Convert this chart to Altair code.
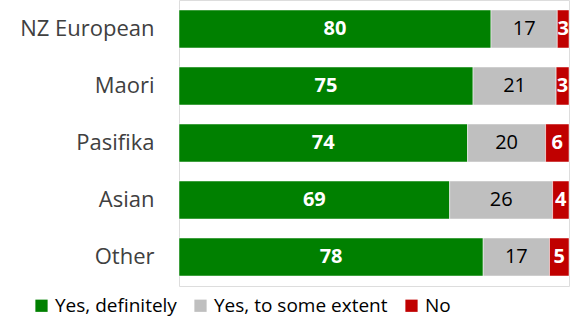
import altair as alt
import pandas as pd

categories = ["NZ European", "Maori", "Pasifika", "Asian", "Other"]
responses = ["Yes, definitely", "Yes, to some extent", "No"]
yes_def = [80.0, 75.4, 74.0, 69.4, 78.0]
yes_some = [17.0, 21.3, 20.0, 26.4, 17.0]
no = [3.0, 3.3, 6.0, 4.2, 5.0]
colors = ["#008000", "#BFBFBF", "#C00000"]

rows = []
for i, c in enumerate(categories):
    for j, (r, vals) in enumerate(zip(responses, [yes_def, yes_some, no])):
        rows.append({"category": c, "response": r, "order": j,
                     "value": vals[i], "label": str(int(round(vals[i]))),
                     "bold": j != 1})
df = pd.DataFrame(rows)

FONT = "Open Sans"

base = alt.Chart(df).transform_stack(
    stack="value", as_=["x0", "x1"], groupby=["category"],
    sort=[alt.SortField("order", order="ascending")]
).transform_calculate(mid="(datum.x0 + datum.x1) / 2")

y_enc = alt.Y("category:N", sort=categories, title=None,
              scale=alt.Scale(paddingInner=0.333, paddingOuter=0.175),
              axis=alt.Axis(domain=False, ticks=False, labelFontSize=22,
                            labelColor="#404040", labelFont=FONT,
                            labelPadding=25, labelLimit=0))

bars = base.mark_bar(stroke="white", strokeWidth=0.5).encode(
    x=alt.X("x0:Q", scale=alt.Scale(domain=[0, 100], nice=False), axis=None),
    x2="x1:Q",
    y=y_enc,
    color=alt.Color("response:N", sort=responses,
                    scale=alt.Scale(domain=responses, range=colors),
                    legend=alt.Legend(title=None, orient="none", direction="horizontal",
                                      legendX=-147, legendY=296,
                                      symbolType="square", symbolSize=150,
                                      symbolStrokeWidth=0,
                                      labelFontSize=19, labelFont=FONT,
                                      labelColor="black", columnPadding=14,
                                      labelOffset=4,
                                      labelLimit=0, symbolOpacity=1)),
)

text_bold = base.transform_filter("datum.bold").mark_text(
    font=FONT, fontSize=20, fontWeight="bold", color="white"
).encode(x="mid:Q", y=alt.Y("category:N", sort=categories), text="label:N")

text_norm = base.transform_filter("!datum.bold").mark_text(
    font=FONT, fontSize=20, color="black"
).encode(x="mid:Q", y=alt.Y("category:N", sort=categories), text="label:N")

chart = alt.layer(bars, text_bold, text_norm).properties(
    width=390, height=286,
    autosize=alt.AutoSizeParams(type="none"),
    padding={"left": 179, "top": 0, "right": 9, "bottom": 34},
).configure_view(stroke=None).configure(background="white")

chart.save("out.html", embed_options={"renderer": "svg", "actions": False})
